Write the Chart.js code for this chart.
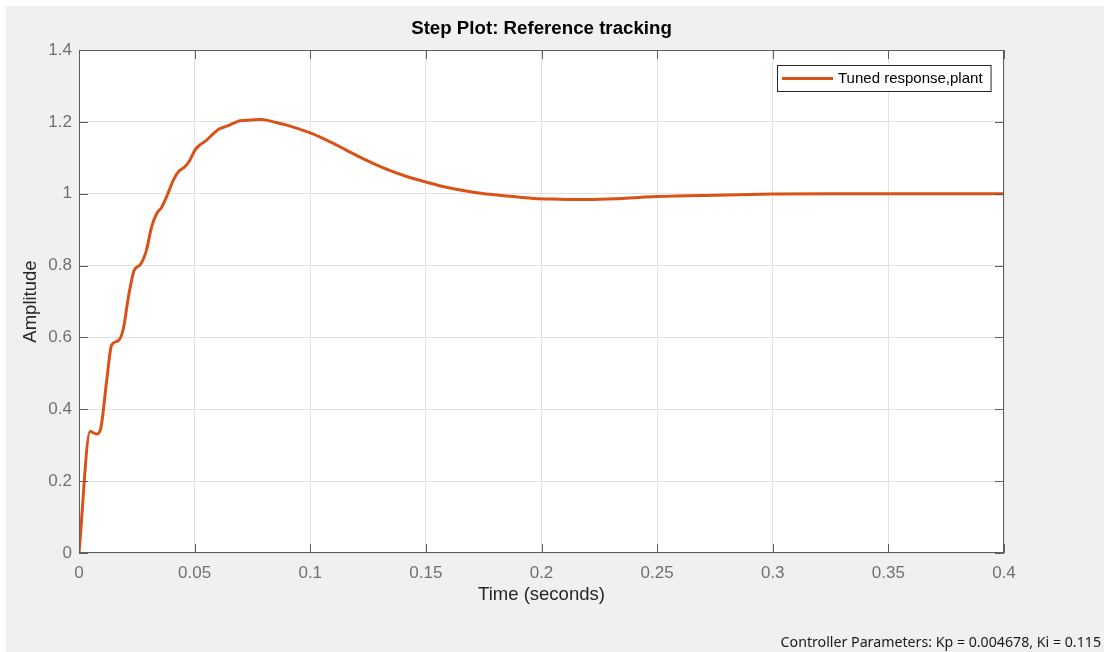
<!DOCTYPE html>
<html>
<head>
<meta charset="utf-8">
<script src="https://cdn.jsdelivr.net/npm/chart.js@4/dist/chart.umd.min.js"></script>
<style>
  html, body { margin: 0; padding: 0; background: #ffffff; }
  #wrap { position: relative; width: 1104px; height: 652px; overflow: hidden; }
  #c { position: absolute; left: 0; top: 0; }
  #footer {
    position: absolute; right: 3px; top: 632px;
    font: 14.2px "Noto Sans", "Open Sans", sans-serif; color: #1a1a1a; white-space: nowrap;
  }
</style>
</head>
<body>
<div id="wrap">
  <canvas id="c" width="1104" height="652"></canvas>
  <div id="footer">Controller Parameters: Kp = 0.004678, Ki = 0.115</div>
</div>
<script>
// Step response samples (time in seconds, amplitude)
const timeSec = [
  0, 0.0048, 0.0076, 0.0094, 0.012, 0.0141, 0.017, 0.0192, 0.0213, 0.0238,
  0.0264, 0.029, 0.0314, 0.0336, 0.0357, 0.0379, 0.0408, 0.043, 0.0458, 0.048,
  0.0502, 0.0523, 0.0552, 0.0574, 0.0602, 0.0639, 0.0667, 0.0696, 0.074, 0.079,
  0.084, 0.0898, 0.0956, 0.1006, 0.11, 0.1208, 0.1316, 0.1417, 0.1503, 0.1604,
  0.172, 0.185, 0.1965, 0.208, 0.22, 0.235, 0.25, 0.275, 0.3, 0.325,
  0.35, 0.375, 0.4
];
const amplitude = [
  0, 0.338, 0.331, 0.347, 0.481, 0.579, 0.591, 0.625, 0.71, 0.786,
  0.802, 0.839, 0.908, 0.945, 0.962, 0.992, 1.038, 1.061, 1.075, 1.094,
  1.122, 1.136, 1.149, 1.163, 1.179, 1.188, 1.196, 1.203, 1.205, 1.207,
  1.2, 1.191, 1.179, 1.168, 1.14, 1.104, 1.072, 1.048, 1.032, 1.016,
  1.003, 0.994, 0.987, 0.985, 0.984, 0.987, 0.992, 0.996, 0.999, 1.0,
  1.0, 1.0, 1.0
];
const seriesLabel = 'Tuned response,plant';

const xTicks = [0, 0.05, 0.1, 0.15, 0.2, 0.25, 0.3, 0.35, 0.4];
const xTickLabels = ['0', '0.05', '0.1', '0.15', '0.2', '0.25', '0.3', '0.35', '0.4'];
const yTicks = [0, 0.2, 0.4, 0.6, 0.8, 1.0, 1.2, 1.4];
const yTickLabels = ['0', '0.2', '0.4', '0.6', '0.8', '1', '1.2', '1.4'];

const LINE_COLOR = '#D95319';
const AXIS_COLOR = '#5e5e5e';
const FONT = 'Liberation Sans';

// Figure background, axes box, inward tick marks and the in-axes legend
const framePlugin = {
  id: 'frame',
  beforeDraw(chart) {
    const { ctx, chartArea: a, width, height } = chart;
    ctx.save();
    ctx.fillStyle = '#ffffff';
    ctx.fillRect(0, 0, width, height);
    ctx.fillStyle = '#f0f0f0';
    ctx.fillRect(6, 6, width - 6, height - 6);
    ctx.fillStyle = '#ffffff';
    ctx.fillRect(a.left, a.top, a.right - a.left, a.bottom - a.top);
    ctx.restore();
  },
  afterDatasetsDraw(chart) {
    const { ctx, chartArea: a, scales: { x, y } } = chart;
    const tl = 9;
    ctx.save();
    ctx.strokeStyle = AXIS_COLOR;
    ctx.lineWidth = 1;
    ctx.beginPath();
    x.ticks.forEach(t => {
      const px = Math.round(x.getPixelForValue(t.value)) + 0.5;
      ctx.moveTo(px, a.bottom); ctx.lineTo(px, a.bottom - tl);
      ctx.moveTo(px, a.top); ctx.lineTo(px, a.top + tl);
    });
    y.ticks.forEach(t => {
      const py = Math.round(y.getPixelForValue(t.value)) + 0.5;
      ctx.moveTo(a.left, py); ctx.lineTo(a.left + tl, py);
      ctx.moveTo(a.right, py); ctx.lineTo(a.right - tl, py);
    });
    ctx.stroke();
    ctx.strokeRect(Math.round(a.left) + 0.5, Math.round(a.top) + 0.5,
                   Math.round(a.right - a.left) - 1, Math.round(a.bottom - a.top) - 1);
    ctx.restore();
  },
  afterDraw(chart) {
    const { ctx, chartArea: a } = chart;
    const ds = chart.data.datasets[0];
    ctx.save();
    ctx.font = '15px "' + FONT + '"';
    const tw = ctx.measureText(ds.label).width;
    const w = 4 + 51 + 6 + tw + 8;
    const h = 26;
    const bx = Math.round(a.right - 13 - w);
    const by = Math.round(a.top + 15);
    ctx.fillStyle = '#ffffff';
    ctx.fillRect(bx, by, w, h);
    ctx.strokeStyle = '#262626';
    ctx.lineWidth = 1;
    ctx.strokeRect(bx + 0.5, by + 0.5, w, h);
    ctx.strokeStyle = ds.borderColor;
    ctx.lineWidth = 3;
    ctx.beginPath();
    ctx.moveTo(bx + 5, by + h / 2 + 0.5);
    ctx.lineTo(bx + 56, by + h / 2 + 0.5);
    ctx.stroke();
    ctx.fillStyle = '#000000';
    ctx.textBaseline = 'middle';
    ctx.fillText(ds.label, bx + 61, by + h / 2 + 1);
    ctx.restore();
  }
};

new Chart(document.getElementById('c'), {
  type: 'line',
  data: {
    datasets: [{
      label: seriesLabel,
      data: timeSec.map((t, i) => ({ x: t, y: amplitude[i] })),
      borderColor: LINE_COLOR,
      backgroundColor: LINE_COLOR,
      borderWidth: 3,
      pointRadius: 0,
      fill: false,
      cubicInterpolationMode: 'monotone'
    }]
  },
  options: {
    responsive: false,
    devicePixelRatio: 1,
    animation: false,
    events: [],
    layout: { padding: { left: 0, right: 100, top: 0, bottom: 0 } },
    plugins: {
      legend: { display: false },
      tooltip: { enabled: false },
      title: {
        display: true,
        fullSize: false,
        text: 'Step Plot: Reference tracking',
        color: '#000000',
        font: { family: FONT, size: 18.7, weight: 'bold', lineHeight: 1.2 },
        padding: { top: 18, bottom: 9.6 }
      }
    },
    scales: {
      x: {
        type: 'linear',
        min: 0, max: 0.4,
        afterBuildTicks: s => { s.ticks = xTicks.map(v => ({ value: v })); },
        afterFit: s => { s.height = 99; },
        grid: { color: '#e2e2e2', drawTicks: false },
        border: { display: false },
        ticks: {
          autoSkip: false, maxRotation: 0,
          callback: (v, i) => xTickLabels[i],
          color: '#707070',
          font: { family: FONT, size: 17 },
          padding: 10
        },
        title: {
          display: true, text: 'Time (seconds)', color: '#262626',
          font: { family: FONT, size: 18.5, lineHeight: 1.2 },
          padding: { top: 0, bottom: 46 }
        }
      },
      y: {
        type: 'linear',
        min: 0, max: 1.4,
        afterBuildTicks: s => { s.ticks = yTicks.map(v => ({ value: v })); },
        afterFit: s => { s.width = 79; },
        grid: { color: '#e2e2e2', drawTicks: false },
        border: { display: false },
        ticks: {
          autoSkip: false,
          callback: (v, i) => yTickLabels[i],
          color: '#707070',
          font: { family: FONT, size: 17 },
          padding: 7
        },
        title: {
          display: true, text: 'Amplitude', color: '#262626',
          font: { family: FONT, size: 18.5, lineHeight: 1.2 },
          padding: { top: 20, bottom: 0 }
        }
      }
    }
  },
  plugins: [framePlugin]
});
</script>
</body>
</html>
